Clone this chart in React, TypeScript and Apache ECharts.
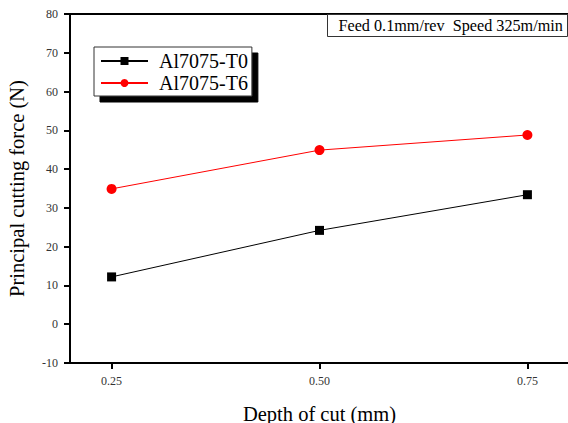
import React, { useEffect, useRef } from "react";
import * as echarts from "echarts";

const depths = [0.25, 0.5, 0.75];
const t0Values = [12.2, 24.2, 33.4];
const t6Values = [34.9, 44.9, 48.8];
const seriesNames = ["Al7075-T0", "Al7075-T6"];
const xTicks = [0.25, 0.5, 0.75];
const annotation = "Feed 0.1mm/rev  Speed 325m/min";

const FONT = "Liberation Serif";

export default function App() {
  const ref = useRef<HTMLDivElement>(null);
  useEffect(() => {
    document.body.style.margin = "0";
    const chart = echarts.init(ref.current!, null, { renderer: "svg" });
    const zip = (vals: number[]) => depths.map((d, i) => [d, vals[i]]);
    chart.setOption({
      animation: false,
      backgroundColor: "#ffffff",
      textStyle: { fontFamily: FONT },
      grid: {
        left: 70,
        top: 14,
        width: 499,
        bottom: 60,
        outerBoundsMode: "none",
        containLabel: false,
        show: true,
        borderColor: "#000",
        borderWidth: 2,
        backgroundColor: "transparent",
      },
      legend: {
        left: 94,
        top: 47,
        orient: "vertical",
        data: seriesNames,
        backgroundColor: "#fff",
        borderColor: "#333",
        borderWidth: 1,
        shadowColor: "#000",
        shadowOffsetX: 6,
        shadowOffsetY: 6,
        shadowBlur: 0,
        padding: [4, 4, 3, 6],
        itemWidth: 47,
        itemHeight: 10,
        itemGap: 2,
        textStyle: {
          fontFamily: FONT,
          fontSize: 20,
          color: "#000",
          lineHeight: 20,
          padding: [0, 0, 0, 6],
        },
      },
      xAxis: {
        type: "value",
        min: 0.2,
        max: 0.8,
        name: "Depth of cut (mm)",
        nameLocation: "middle",
        nameGap: 40,
        nameTextStyle: { fontFamily: FONT, fontSize: 20.5, color: "#000" },
        axisLine: { onZero: false, lineStyle: { color: "#000", width: 2 } },
        axisTick: { customValues: xTicks, length: 6, lineStyle: { color: "#000", width: 2 } },
        axisLabel: {
          customValues: xTicks,
          formatter: (v: number) => v.toFixed(2),
          fontFamily: FONT,
          fontSize: 12,
          color: "#333",
          margin: 12,
        },
        splitLine: { show: false },
      },
      yAxis: {
        type: "value",
        min: -10,
        max: 80,
        interval: 10,
        name: "Principal cutting force (N)",
        nameLocation: "middle",
        nameGap: 43,
        nameTextStyle: { fontFamily: FONT, fontSize: 20.5, color: "#000" },
        axisLine: { show: true, onZero: false, lineStyle: { color: "#000", width: 2 } },
        axisTick: { show: true, length: 6, lineStyle: { color: "#000", width: 2 } },
        axisLabel: { fontFamily: FONT, fontSize: 12, color: "#333", margin: 12 },
        splitLine: { show: false },
      },
      graphic: [
        {
          type: "group",
          left: 327,
          top: 14,
          children: [
            {
              type: "rect",
              shape: { x: 0, y: 0, width: 240, height: 22 },
              style: { fill: "#fff", stroke: "#333", lineWidth: 1 },
            },
            {
              type: "text",
              x: 11,
              y: 11,
              style: {
                text: annotation,
                font: `16.2px ${FONT}`,
                fill: "#000",
                verticalAlign: "middle",
              },
            },
          ],
        },
      ],
      series: [
        {
          name: seriesNames[0],
          type: "line",
          data: zip(t0Values),
          symbol: "rect",
          symbolSize: 9,
          lineStyle: { color: "#000", width: 1 },
          itemStyle: { color: "#000" },
        },
        {
          name: seriesNames[1],
          type: "line",
          data: zip(t6Values),
          symbol: "circle",
          symbolSize: 10,
          lineStyle: { color: "#ff0000", width: 1 },
          itemStyle: { color: "#ff0000" },
        },
      ],
    });
    return () => chart.dispose();
  }, []);
  return (
    <div
      ref={ref}
      style={{ position: "absolute", left: 0, top: 0, width: 568, height: 423 }}
    />
  );
}
